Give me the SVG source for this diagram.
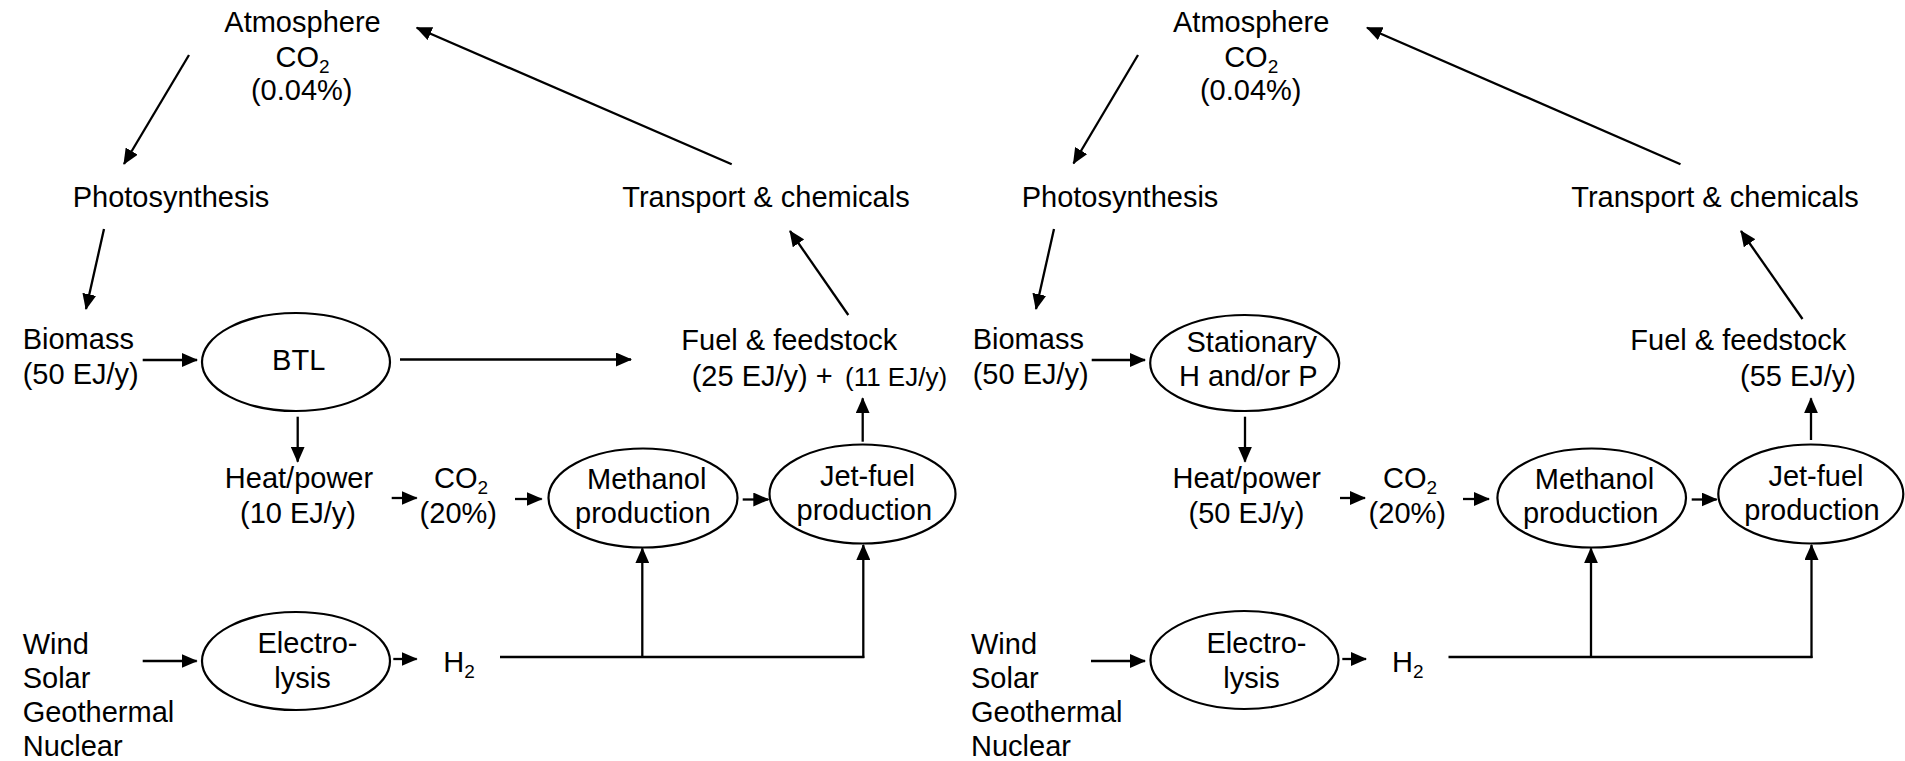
<svg xmlns="http://www.w3.org/2000/svg" width="1905" height="761" viewBox="0 0 1905 761">
<style>
text { font-family: "Liberation Sans", Arial, Helvetica, sans-serif; font-size: 29px; fill: #000; }
.m { text-anchor: middle; }
.e { text-anchor: end; }
.sub { font-size: 19px; }
.sm { font-size: 26px; }
ellipse { fill: #fff; stroke: #000; stroke-width: 2.2; }
#connectors line { stroke: #000; stroke-width: 2.3; fill: none; }
.a { marker-end: url(#arr); }
</style>
<defs>
<marker id="arr" viewBox="0 0 16 14" markerWidth="16" markerHeight="14" refX="15" refY="7" orient="auto" markerUnits="userSpaceOnUse">
<path d="M0,0 L16,7 L0,14 z" fill="#000"/>
</marker>
</defs>
<rect width="1905" height="761" fill="#fff"/>

<g id="connectors">
<!-- left -->
<line class="a" x1="189" y1="55" x2="124" y2="164"/>
<line class="a" x1="731.7" y1="164.3" x2="416.7" y2="27.7"/>
<line class="a" x1="104" y1="229" x2="86" y2="309"/>
<line class="a" x1="142.7" y1="360" x2="197" y2="360"/>
<line class="a" x1="400" y1="359.5" x2="631" y2="359.5"/>
<line class="a" x1="848.3" y1="315" x2="790" y2="231"/>
<line class="a" x1="297.7" y1="416.7" x2="297.7" y2="461.7"/>
<line class="a" x1="391.7" y1="498" x2="416.7" y2="498"/>
<line class="a" x1="515" y1="499" x2="541.7" y2="499"/>
<line class="a" x1="742.7" y1="499.5" x2="768.3" y2="499.5"/>
<line class="a" x1="862.7" y1="441.7" x2="862.7" y2="398.3"/>
<line class="a" x1="142.7" y1="661" x2="196.7" y2="661"/>
<line class="a" x1="393.3" y1="659" x2="416.7" y2="659"/>
<line x1="500" y1="657" x2="864.3" y2="657"/>
<line class="a" x1="642.3" y1="657" x2="642.3" y2="548.3"/>
<line class="a" x1="863.3" y1="658" x2="863.3" y2="545"/>
<!-- right -->
<line class="a" x1="1138" y1="55" x2="1073.5" y2="163.5"/>
<line class="a" x1="1680.5" y1="164.3" x2="1367" y2="27.7"/>
<line class="a" x1="1054" y1="229" x2="1036" y2="309"/>
<line class="a" x1="1091.7" y1="360" x2="1145" y2="360"/>
<line class="a" x1="1802.5" y1="319" x2="1741" y2="231"/>
<line class="a" x1="1245" y1="416.7" x2="1245" y2="461.7"/>
<line class="a" x1="1340" y1="498" x2="1365" y2="498"/>
<line class="a" x1="1463" y1="499" x2="1489" y2="499"/>
<line class="a" x1="1691.7" y1="499.5" x2="1716.7" y2="499.5"/>
<line class="a" x1="1811" y1="440" x2="1811" y2="398.3"/>
<line class="a" x1="1091" y1="661" x2="1145" y2="661"/>
<line class="a" x1="1342.3" y1="659" x2="1366" y2="659"/>
<line x1="1448.5" y1="657" x2="1812.5" y2="657"/>
<line class="a" x1="1591" y1="657" x2="1591" y2="548.3"/>
<line class="a" x1="1811.5" y1="658" x2="1811.5" y2="545"/>
</g>

<!-- LEFT PANEL -->
<g id="atmosphere-left">
<text class="m" x="302.5" y="31.7">Atmosphere</text>
<text class="m" x="302.5" y="66.7">CO<tspan class="sub" dy="6">2</tspan></text>
<text class="m" x="301.7" y="100">(0.04%)</text>
</g>
<g id="photosynthesis-left"><text class="m" x="171" y="207">Photosynthesis</text></g>
<g id="transport-left"><text class="m" x="766" y="207">Transport &amp; chemicals</text></g>
<g id="biomass-left">
<text x="22.7" y="349">Biomass</text>
<text x="22.7" y="384">(50 EJ/y)</text>
</g>
<g id="btl">
<ellipse cx="296" cy="362" rx="94" ry="49"/>
<text class="m" x="298.7" y="370">BTL</text>
</g>
<g id="fuel-left">
<text class="m" x="789.3" y="350">Fuel &amp; feedstock</text>
<text x="691.7" y="386">(25 EJ/y) +</text>
<text class="sm" x="845" y="386">(11 EJ/y)</text>
</g>
<g id="heatpower-left">
<text class="m" x="299" y="488">Heat/power</text>
<text class="m" x="298" y="523">(10 EJ/y)</text>
</g>
<g id="co2-left">
<text class="m" x="461" y="488">CO<tspan class="sub" dy="6">2</tspan></text>
<text class="m" x="458.3" y="523">(20%)</text>
</g>
<g id="methanol-left">
<ellipse cx="643" cy="498" rx="94.5" ry="49.5"/>
<text class="m" x="646.7" y="489">Methanol</text>
<text class="m" x="642.8" y="523">production</text>
</g>
<g id="jetfuel-left">
<ellipse cx="862.5" cy="494" rx="93" ry="49.5"/>
<text class="m" x="867.5" y="486">Jet-fuel</text>
<text class="m" x="864.3" y="520">production</text>
</g>
<g id="renewables-left">
<text x="22.7" y="654">Wind</text>
<text x="22.7" y="688">Solar</text>
<text x="22.7" y="722">Geothermal</text>
<text x="22.7" y="756">Nuclear</text>
</g>
<g id="electrolysis-left">
<ellipse cx="296" cy="661" rx="94" ry="49"/>
<text class="m" x="307.5" y="653">Electro-</text>
<text class="m" x="302.5" y="688">lysis</text>
</g>
<g id="h2-left"><text x="443.3" y="672">H<tspan class="sub" dy="6">2</tspan></text></g>

<!-- RIGHT PANEL -->
<g id="atmosphere-right">
<text class="m" x="1251.2" y="31.7">Atmosphere</text>
<text class="m" x="1251.2" y="66.7">CO<tspan class="sub" dy="6">2</tspan></text>
<text class="m" x="1250.7" y="100">(0.04%)</text>
</g>
<g id="photosynthesis-right"><text class="m" x="1120" y="207">Photosynthesis</text></g>
<g id="transport-right"><text class="m" x="1715" y="207">Transport &amp; chemicals</text></g>
<g id="biomass-right">
<text x="972.7" y="349">Biomass</text>
<text x="972.7" y="384">(50 EJ/y)</text>
</g>
<g id="stationary">
<ellipse cx="1244.7" cy="363" rx="94.5" ry="48"/>
<text class="m" x="1251.8" y="352">Stationary</text>
<text class="m" x="1248.3" y="386">H and/or P</text>
</g>
<g id="fuel-right">
<text class="m" x="1738.3" y="350">Fuel &amp; feedstock</text>
<text class="e" x="1856" y="386">(55 EJ/y)</text>
</g>
<g id="heatpower-right">
<text class="m" x="1246.7" y="488">Heat/power</text>
<text class="m" x="1246.5" y="523">(50 EJ/y)</text>
</g>
<g id="co2-right">
<text class="m" x="1410" y="488">CO<tspan class="sub" dy="6">2</tspan></text>
<text class="m" x="1407.3" y="523">(20%)</text>
</g>
<g id="methanol-right">
<ellipse cx="1591.7" cy="498" rx="94.3" ry="49.5"/>
<text class="m" x="1594.5" y="489">Methanol</text>
<text class="m" x="1590.7" y="523">production</text>
</g>
<g id="jetfuel-right">
<ellipse cx="1810.8" cy="494" rx="92.5" ry="49.5"/>
<text class="m" x="1816" y="486">Jet-fuel</text>
<text class="m" x="1812" y="520">production</text>
</g>
<g id="renewables-right">
<text x="971" y="654">Wind</text>
<text x="971" y="688">Solar</text>
<text x="971" y="722">Geothermal</text>
<text x="971" y="756">Nuclear</text>
</g>
<g id="electrolysis-right">
<ellipse cx="1244.5" cy="660" rx="94" ry="49"/>
<text class="m" x="1256.5" y="653">Electro-</text>
<text class="m" x="1251.5" y="688">lysis</text>
</g>
<g id="h2-right"><text x="1392" y="672">H<tspan class="sub" dy="6">2</tspan></text></g>
</svg>
